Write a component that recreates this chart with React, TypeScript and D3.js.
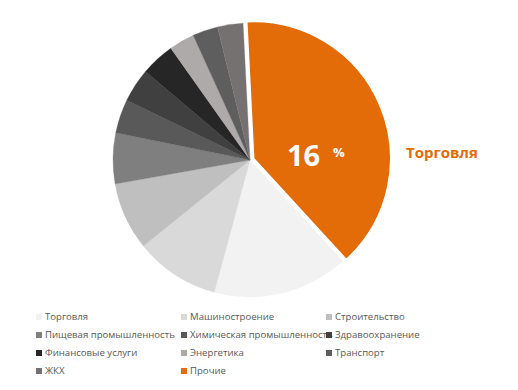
import React from 'react'
import * as d3 from 'd3'

const categories = [
  'Торговля',
  'Машиностроение',
  'Строительство',
  'Пищевая промышленность',
  'Химическая промышленность',
  'Здравоохранение',
  'Финансовые услуги',
  'Энергетика',
  'Транспорт',
  'ЖКХ',
  'Прочие',
]
const shares = [16, 10, 8, 6, 4, 4, 4, 3, 3, 3, 39]
const colors = [
  '#f2f2f2',
  '#d9d9d9',
  '#bfbfbf',
  '#7f7f7f',
  '#595959',
  '#404040',
  '#262626',
  '#aeaaaa',
  '#5e5e5e',
  '#767171',
  '#e36c09',
]
const highlightValue = '16'
const highlightLabel = 'Торговля'

const width = 518
const height = 390
const cx = 250
const cy = 160
const radius = 137
const explode = 4
const startDeg = 137.5

const App = () => {
  const toRad = (deg: number) => (deg * Math.PI) / 180
  const pie = d3.pie<number>()
    .sort(null)
    .startAngle(toRad(startDeg))
    .endAngle(toRad(startDeg + 360))
  const arcs = pie(shares)
  const arc = d3.arc<d3.PieArcDatum<number>>()
    .innerRadius(0)
    .outerRadius(radius)

  const legendX = d3.scalePoint<number>().domain([0, 1, 2]).range([36, 326])
  const legendY = d3.scalePoint<number>().domain([0, 1, 2, 3]).range([317, 371])

  return (
    <svg width={width} height={height} style={{ position: 'absolute', left: 0, top: 0 }}>
      <rect width={width} height={height} fill="#fff" />
      <g transform={`translate(${cx},${cy})`}>
        {arcs.map((a, i) => {
          const last = i === arcs.length - 1
          const mid = (a.startAngle + a.endAngle) / 2
          const dx = last ? Math.sin(mid) * explode : 0
          const dy = last ? -Math.cos(mid) * explode : 0
          return (
            <path
              key={categories[i]}
              d={arc(a) || ''}
              fill={colors[i]}
              stroke={last ? '#fff' : colors[i]}
              strokeWidth={last ? 1.5 : 0.3}
              transform={`translate(${dx},${dy})`}
            />
          )
        })}
      </g>
      <text
        x={cx + 37}
        y={cy + 6}
        fill="#fff"
        fontFamily="'Open Sans', sans-serif"
        fontWeight={700}
        fontSize={29}
      >
        {highlightValue}
      </text>
      <text
        x={cx + 83}
        y={cy - 3}
        fill="#fff"
        fontFamily="'Open Sans', sans-serif"
        fontWeight={700}
        fontSize={13}
      >
        %
      </text>
      <text
        x={406}
        y={cy - 2}
        fill="#e36c09"
        fontFamily="'Open Sans', sans-serif"
        fontWeight={700}
        fontSize={15}
      >
        {highlightLabel}
      </text>
      <g fontFamily="'Open Sans', sans-serif" fontSize={9.6} fill="#595959">
        {categories.map((c, i) => {
          const x = legendX(i % 3) || 0
          const y = legendY(Math.floor(i / 3)) || 0
          return (
            <g key={c} transform={`translate(${x},${y})`}>
              <rect x={0} y={-3} width={6} height={6} fill={colors[i]} />
              <text x={9} y={0} dy="0.35em">{c}</text>
            </g>
          )
        })}
      </g>
    </svg>
  )
}

export default App
